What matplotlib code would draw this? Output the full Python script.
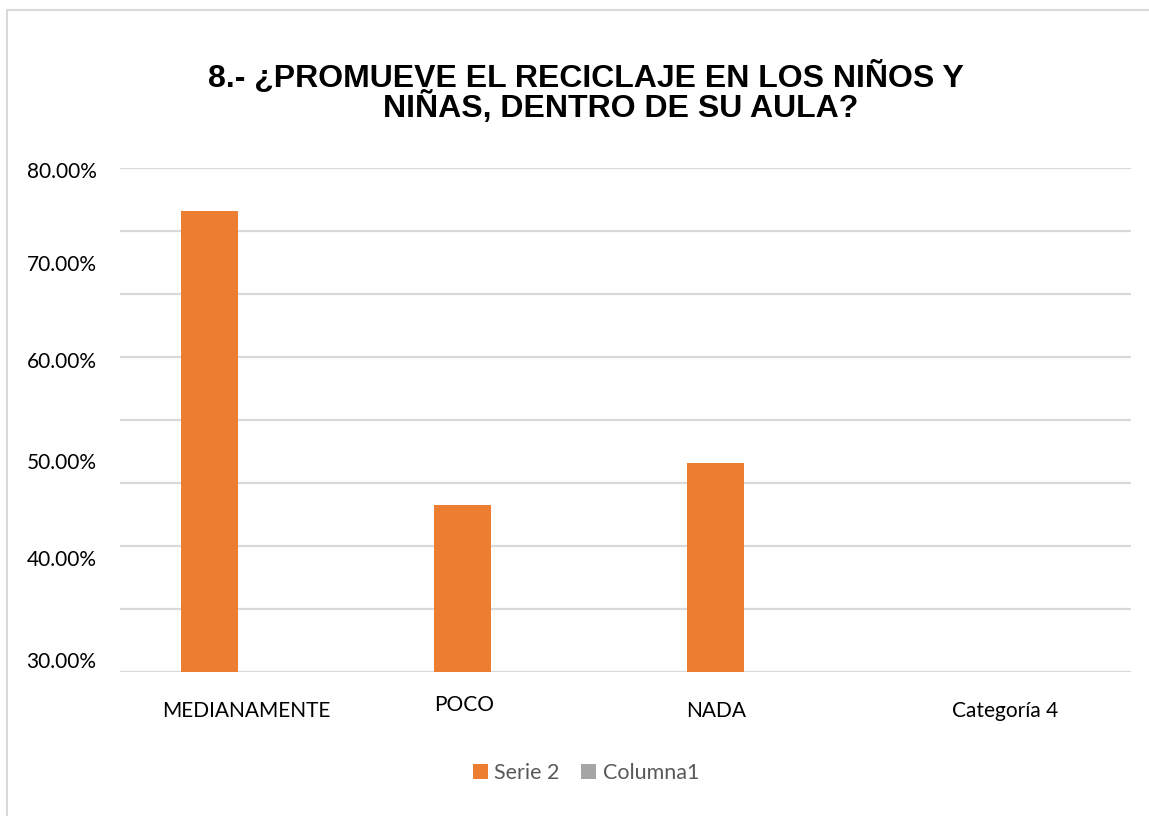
import matplotlib.pyplot as plt
import numpy as np
from matplotlib.patches import Rectangle

# data
categories = ['MEDIANAMENTE', 'POCO', 'NADA', 'Categoría 4']
serie2 = [0.757, 0.466, 0.507, np.nan]
columna1 = [np.nan, np.nan, np.nan, np.nan]
ytick_labels = ['30.00%', '40.00%', '50.00%', '60.00%', '70.00%', '80.00%']

# where the picture draws its (odd) tick labels
ytick_pos = [0.312, 0.413, 0.509, 0.6095, 0.706, 0.798]
xtick_pos = [0, 0.862, 1.858, 3]

orange = '#ED7D31'
gray = '#A5A5A5'

fig = plt.figure(figsize=(11.49, 8.16), dpi=100)
ax = fig.add_axes([120/1149, 1-672/816, (1131-120)/1149, (672-168)/816])

# chart border
fig.patches.append(Rectangle((7/1149, -0.05), 1.2, 1-10/816+0.05, transform=fig.transFigure,
                             fill=False, edgecolor='#D9D9D9', linewidth=1.5))

x = np.arange(len(categories))
w = 0.225
ax.bar(x - 0.145, serie2, width=w, color=orange, label='Serie 2', zorder=3)
ax.bar(x + 0.145, columna1, width=w, color=gray, label='Columna1', zorder=3)

ax.set_xlim(-0.5, 3.5)
ax.set_ylim(0.3, 0.8)

# gridlines
for g in np.linspace(0.3, 0.8, 9):
    ax.axhline(g, color='#D9D9D9', linewidth=1.6, zorder=1)

for s in ax.spines.values():
    s.set_visible(False)

ax.set_yticks(ytick_pos)
ax.set_yticklabels(ytick_labels, fontsize=15, family='Lato', color='#000000')
ax.tick_params(axis='y', length=0, pad=17)
ax.set_xticks(xtick_pos)
ax.set_xticklabels(categories, fontsize=15, family='Lato', color='#000000')
ax.tick_params(axis='x', length=0, pad=21)
for lbl in ax.get_xticklabels():
    if lbl.get_text() == 'POCO':
        lbl.set_y(0.012)

fig.text(586/1149, 1-77/816, '8.- ¿PROMUEVE EL RECICLAJE EN LOS NIÑOS Y',
         ha='center', va='center', fontsize=23, fontweight='bold', family='Liberation Sans')
fig.text(621/1149, 1-108/816, 'NIÑAS, DENTRO DE SU AULA?',
         ha='center', va='center', fontsize=23, fontweight='bold', family='Liberation Sans')

leg = fig.legend(loc='center', bbox_to_anchor=(586/1149, 1-773/816), ncol=2, frameon=False,
                 prop={'family': 'Lato', 'size': 15.5}, handlelength=0.7, handleheight=0.7,
                 handletextpad=0.3, columnspacing=1.0)
for t in leg.get_texts():
    t.set_color('#595959')

fig.savefig('out.png', dpi=100)
